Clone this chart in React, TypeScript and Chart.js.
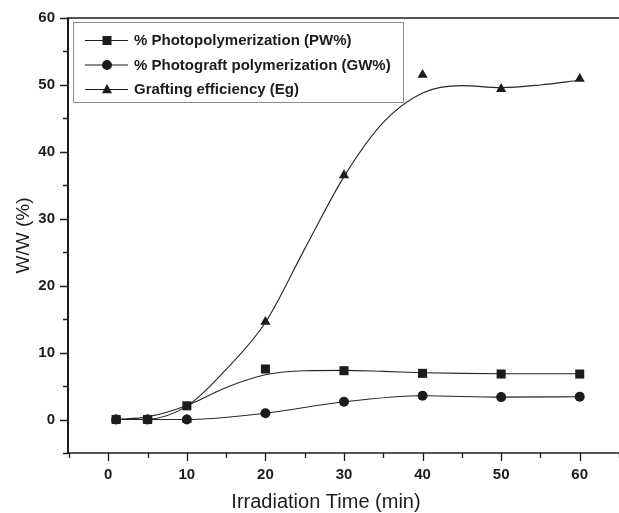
import { useEffect, useRef } from "react";
import { Chart, registerables } from "chart.js";

Chart.register(...registerables);

// Measured points (irradiation time in minutes, W/W %)
const timeMin = [1, 5, 10, 20, 30, 40, 50, 60];
const pwPercent = [0, 0, 2.05, 7.55, 7.3, 6.9, 6.8, 6.8];
const gwPercent = [0, 0, 0, 0.95, 2.65, 3.55, 3.35, 3.4];
const egPercent = [0, 0, 0, 14.6, 36.5, 51.5, 49.4, 50.9];

// Smoothed trend curves
const curveTime = [1, 5, 10, 15, 20, 25, 30, 35, 40, 45, 50, 55, 60];
const pwCurve = [0, 0.4, 2.1, 4.8, 6.7, 7.3, 7.35, 7.2, 7.0, 6.9, 6.85, 6.85, 6.85];
const egCurve = [0, 0.05, 2.0, 7.5, 14.5, 25.5, 36.3, 44.4, 48.8, 49.9, 49.6, 50.0, 50.7];

const seriesNames = [
  "% Photopolymerization (PW%)",
  "% Photograft polymerization (GW%)",
  "Grafting efficiency (Eg)",
];
const xTickLabels = [0, 10, 20, 30, 40, 50, 60];
const yTickLabels = [0, 10, 20, 30, 40, 50, 60];

const xTitle = "Irradiation Time (min)";
const yTitle = "W/W (%)";

const INK = "#1c1c1c";
const FONT = '"Liberation Sans", Arial, sans-serif';

type Marker = "rect" | "circle" | "triangle";
const markers: Marker[] = ["rect", "circle", "triangle"];

function toPoints(xs: number[], ys: number[]) {
  return xs.map((x, i) => ({ x, y: ys[i] }));
}

function drawMarker(ctx: CanvasRenderingContext2D, m: Marker, x: number, y: number) {
  ctx.beginPath();
  if (m === "rect") {
    ctx.rect(x - 4.5, y - 4.5, 9, 9);
  } else if (m === "circle") {
    ctx.arc(x, y, 5, 0, Math.PI * 2);
  } else {
    ctx.moveTo(x, y - 5.5);
    ctx.lineTo(x + 5, y + 3.8);
    ctx.lineTo(x - 5, y + 3.8);
    ctx.closePath();
  }
  ctx.fill();
}

const decorPlugin = {
  id: "decor",
  afterDraw(chart: any) {
    const { ctx, chartArea: a, scales } = chart;
    const xs = scales.x;
    const ys = scales.y;
    ctx.save();
    ctx.strokeStyle = INK;
    ctx.fillStyle = INK;

    // frame: left axis, bottom axis, top border
    ctx.lineWidth = 2;
    ctx.beginPath();
    ctx.moveTo(a.left - 1, a.top);
    ctx.lineTo(a.left - 1, a.bottom + 1);
    ctx.stroke();
    ctx.lineWidth = 1.6;
    ctx.beginPath();
    ctx.moveTo(a.left - 2, a.bottom);
    ctx.lineTo(a.right, a.bottom);
    ctx.moveTo(a.left - 2, a.top);
    ctx.lineTo(a.right, a.top);
    ctx.stroke();

    // outward tick marks, longer on labelled values
    ctx.lineWidth = 1.3;
    ctx.beginPath();
    for (const t of xs.ticks) {
      const px = Math.round(xs.getPixelForValue(t.value)) + 0.5;
      const len = t.value % 10 === 0 ? 8 : 5;
      ctx.moveTo(px, a.bottom);
      ctx.lineTo(px, a.bottom + len);
    }
    for (const t of ys.ticks) {
      const py = Math.round(ys.getPixelForValue(t.value)) + 0.5;
      const len = t.value % 10 === 0 ? 8 : 5;
      ctx.moveTo(a.left - 1, py);
      ctx.lineTo(a.left - 1 - len, py);
    }
    ctx.stroke();

    // axis titles
    ctx.textBaseline = "middle";
    ctx.textAlign = "center";
    ctx.font = `20px ${FONT}`;
    ctx.fillText(xTitle, 326, 502);
    ctx.save();
    ctx.translate(24, (a.top + a.bottom) / 2);
    ctx.rotate(-Math.PI / 2);
    ctx.font = `19px ${FONT}`;
    ctx.fillText(yTitle, 0, 0);
    ctx.restore();

    // legend
    ctx.strokeStyle = "#8c8c8c";
    ctx.lineWidth = 1;
    ctx.strokeRect(73.5, 22.5, 330, 80);
    const rows = [40, 64.5, 89];
    ctx.textAlign = "left";
    ctx.font = `bold 15px ${FONT}`;
    rows.forEach((ry, i) => {
      ctx.strokeStyle = INK;
      ctx.lineWidth = 1;
      ctx.beginPath();
      ctx.moveTo(85, ry + 0.5);
      ctx.lineTo(128, ry + 0.5);
      ctx.stroke();
      drawMarker(ctx, markers[i], 107, ry + 0.5);
      ctx.fillText(seriesNames[i], 134, ry + 1);
    });

    ctx.restore();
  },
};

export default function App() {
  const canvasRef = useRef<HTMLCanvasElement | null>(null);

  useEffect(() => {
    document.body.style.margin = "0";
    const canvas = canvasRef.current;
    if (!canvas) return;

    const markerDataset = (i: number, ys: number[], radius: number) => ({
      label: seriesNames[i],
      data: toPoints(timeMin, ys),
      showLine: false,
      pointStyle: markers[i],
      pointRadius: radius,
      pointBorderWidth: 0,
      pointBackgroundColor: INK,
      borderColor: INK,
      order: 0,
    });
    const curveDataset = (label: string, xs: number[], ys: number[]) => ({
      label,
      data: toPoints(xs, ys),
      showLine: true,
      pointRadius: 0,
      borderColor: "#262626",
      borderWidth: 1.1,
      cubicInterpolationMode: "monotone" as const,
      order: 1,
    });

    const chart = new Chart(canvas, {
      type: "scatter",
      data: {
        datasets: [
          markerDataset(0, pwPercent, 6.4),
          markerDataset(1, gwPercent, 5),
          markerDataset(2, egPercent, 5.9),
          curveDataset("PW trend", curveTime, pwCurve),
          curveDataset("GW trend", timeMin, gwPercent),
          curveDataset("Eg trend", curveTime, egCurve),
        ],
      },
      options: {
        responsive: false,
        animation: false,
        devicePixelRatio: 1,
        layout: { autoPadding: false, padding: { left: 0, top: 18, right: 0, bottom: 0 } },
        plugins: {
          legend: { display: false },
          tooltip: { enabled: false },
          title: { display: false },
        },
        scales: {
          x: {
            type: "linear",
            min: -5,
            max: 65,
            border: { display: false },
            grid: { display: false, drawTicks: true, tickLength: 8 },
            ticks: {
              stepSize: 5,
              autoSkip: false,
              maxRotation: 0,
              padding: 5,
              color: INK,
              font: { family: FONT, size: 15, weight: "bold" },
              callback: (v: any) => (xTickLabels.includes(Number(v)) ? String(v) : ""),
            },
            afterFit: (s: any) => {
              s.height = 60;
              s.paddingLeft = 0;
              s.paddingRight = 0;
            },
          },
          y: {
            type: "linear",
            min: -5,
            max: 60,
            border: { display: false },
            grid: { display: false, drawTicks: true, tickLength: 8 },
            ticks: {
              stepSize: 5,
              autoSkip: false,
              padding: 6,
              color: INK,
              font: { family: FONT, size: 15, weight: "bold" },
              callback: (v: any) => (yTickLabels.includes(Number(v)) ? String(v) : ""),
            },
            afterFit: (s: any) => {
              s.width = 69;
              s.paddingTop = 0;
              s.paddingBottom = 0;
            },
          },
        },
      },
      plugins: [decorPlugin],
    });

    return () => chart.destroy();
  }, []);

  return (
    <div style={{ width: 619, height: 513, background: "#fff" }}>
      <canvas ref={canvasRef} width={619} height={513} style={{ display: "block" }} />
    </div>
  );
}
